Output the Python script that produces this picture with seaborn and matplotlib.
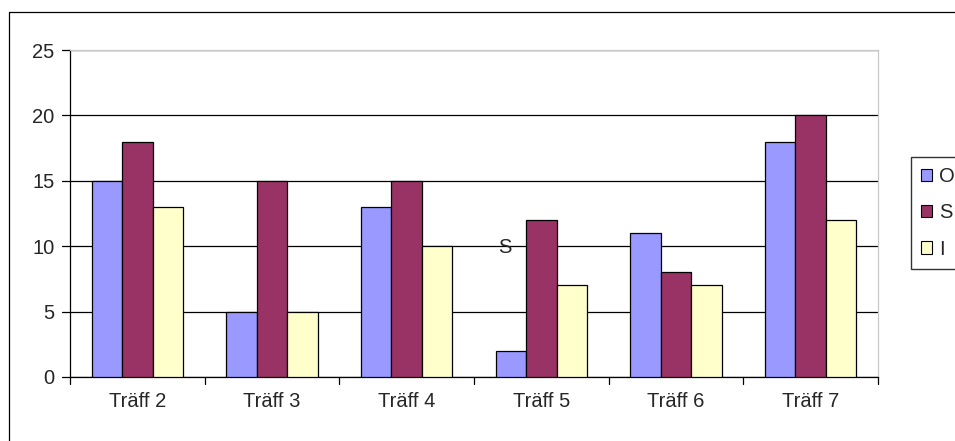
import pandas as pd
import matplotlib.pyplot as plt
import seaborn as sns
from matplotlib.lines import Line2D

categories = ['Träff 2', 'Träff 3', 'Träff 4', 'Träff 5', 'Träff 6', 'Träff 7']
o_values = [15, 5, 13, 2, 11, 18]
s_values = [18, 15, 15, 12, 8, 20]
i_values = [13, 5, 10, 7, 7, 12]
series = ['O', 'S', 'I']
colors = ['#9999FF', '#993366', '#FFFFCC']

df = pd.DataFrame({
    'Träff': categories * 3,
    'Serie': ['O'] * 6 + ['S'] * 6 + ['I'] * 6,
    'Värde': o_values + s_values + i_values,
})

sns.set_style('white')
plt.rcParams['font.family'] = ['Liberation Sans', 'DejaVu Sans']

fig = plt.figure(figsize=(9.55, 4.41), dpi=100)
ax = fig.add_axes([70 / 955, 64 / 441, 808 / 955, 327 / 441])

sns.barplot(data=df, x='Träff', y='Värde', hue='Serie', hue_order=series,
            palette=colors, width=0.68, gap=0, edgecolor='black', linewidth=0.9,
            saturation=1, ax=ax, zorder=3)

ax.set_ylim(0, 25)
ax.set_xlim(-0.5, 5.5)
ax.set_yticks([0, 5, 10, 15, 20, 25])
ax.yaxis.grid(True, color='black', linewidth=0.9, zorder=0)
ax.set_axisbelow(True)
ax.set_xlabel('')
ax.set_ylabel('')
ax.tick_params(axis='y', labelsize=14.5, length=0, pad=11)
ax.tick_params(axis='x', labelsize=14.5, length=0, pad=11)

for side in ['top', 'right']:
    ax.spines[side].set_color('#c8c8c8')
ax.spines['left'].set_color('black')
ax.spines['bottom'].set_color('black')
for sp in ax.spines.values():
    sp.set_linewidth(0.9)

# tick marks like the original
for k in range(7):
    ax.plot([k - 0.5, k - 0.5], [0, -0.55], color='black', lw=0.9, clip_on=False)
for v in range(0, 30, 5):
    ax.plot([-0.5, -0.56], [v, v], color='black', lw=0.9, clip_on=False)

ax.text(2.73, 9.9, 'S', fontsize=14.5, ha='center', va='center', zorder=5)

handles = [plt.Rectangle((0, 0), 1, 1, facecolor=c, edgecolor='black', lw=0.8) for c in colors]
ax.legend(handles, series, loc='center left', bbox_to_anchor=(911 / 955, 228 / 441),
          bbox_transform=fig.transFigure, frameon=True, fontsize=14.5,
          handlelength=0.55, handleheight=0.55, handletextpad=0.35,
          labelspacing=0.85, borderpad=0.5, borderaxespad=0, fancybox=False,
          edgecolor='black')

# outer chart frame
fig.add_artist(Line2D([9 / 955, 9 / 955], [0, 1 - 12 / 441], color='black', lw=0.9))
fig.add_artist(Line2D([9 / 955, 1], [1 - 12 / 441, 1 - 12 / 441], color='black', lw=0.9))

fig.savefig('out.png', dpi=100)
